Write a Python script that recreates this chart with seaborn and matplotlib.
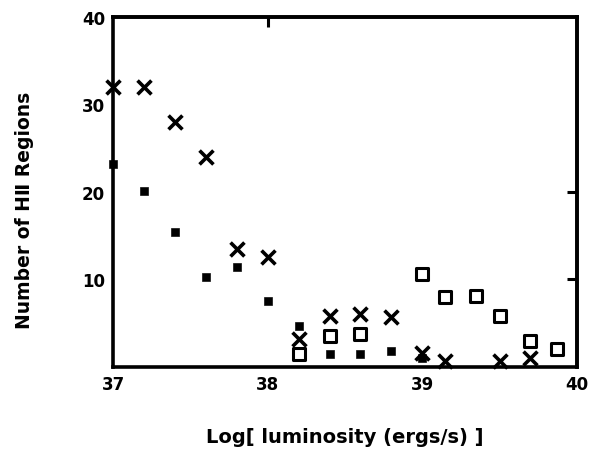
import pandas as pd
import matplotlib
matplotlib.use("Agg")
import matplotlib.pyplot as plt
import seaborn as sns

# crosses
cross_x = [37.0, 37.2, 37.4, 37.6, 37.8, 38.0, 38.2, 38.4, 38.6, 38.8, 39.0, 39.15, 39.5, 39.7]
cross_n = [32, 32, 28, 24, 13.5, 12.6, 3.2, 5.8, 6.0, 5.7, 1.6, 0.7, 0.7, 1.0]

# small filled squares
fill_x = [37.0, 37.2, 37.4, 37.6, 37.8, 38.0, 38.2, 38.4, 38.6, 38.8, 39.0, 39.87]
fill_n = [23.2, 20.1, 15.4, 10.3, 11.4, 7.5, 4.7, 1.5, 1.5, 1.8, 1.0, 2.0]

# open squares
open_x = [38.2, 38.4, 38.6, 39.0, 39.15, 39.35, 39.5, 39.7, 39.87]
open_n = [1.5, 3.5, 3.8, 10.6, 8.0, 8.1, 5.8, 3.0, 2.0]

xticks = [37, 38, 39, 40]
xtick_labels = ["37", "38", "39", "40"]
yticks = [10, 20, 30, 40]
ytick_labels = ["10", "20", "30", "40"]

sns.set_style("white")
plt.rcParams['font.family'] = ['DejaVu Sans']
plt.rcParams['text.color'] = 'black'
plt.rcParams['axes.labelcolor'] = 'black'
plt.rcParams['xtick.color'] = 'black'
plt.rcParams['ytick.color'] = 'black'

fig = plt.figure(figsize=(5.99, 4.56), dpi=100)
ax = fig.add_axes([0.189, 0.193, 0.774, 0.768])

sns.scatterplot(x=cross_x, y=cross_n, marker='x', s=100, color='black',
                linewidth=2.6, ax=ax, clip_on=False, zorder=3)
sns.scatterplot(x=fill_x, y=fill_n, marker='s', s=30, color='black',
                edgecolor='black', ax=ax, clip_on=False, zorder=3)
sns.scatterplot(x=open_x, y=open_n, marker='s', s=70, facecolor='white',
                edgecolor='black', linewidth=2.2, ax=ax, clip_on=False, zorder=3)

ax.set_xlim(37, 40)
ax.set_ylim(0, 40)
ax.set_xticks(xticks)
ax.set_xticklabels(xtick_labels, fontsize=12, fontweight='bold')
ax.set_yticks(yticks)
ax.set_yticklabels(ytick_labels, fontsize=12, fontweight='bold')
ax.tick_params(direction='in', length=7, width=2.2, color='black',
               labelcolor='black', pad=6)

# hand-drawn frame: only a few ticks on top and right
top = ax.secondary_xaxis('top')
top.set_xticks([38])
top.set_xticklabels([])
top.tick_params(direction='in', length=7, width=2.2, color='black')
right = ax.secondary_yaxis('right')
right.set_yticks([10, 20])
right.set_yticklabels([])
right.tick_params(direction='in', length=7, width=2.2, color='black')
for a in (top, right):
    for sp in a.spines.values():
        sp.set_linewidth(2.6)
        sp.set_color('black')

for sp in ax.spines.values():
    sp.set_color('black')
    sp.set_linewidth(2.6)

ax.set_xlabel("Log[ luminosity (ergs/s) ]", fontsize=14, fontweight='bold', labelpad=24)
ax.set_ylabel("Number of H\u2161 Regions", fontsize=13.5, fontweight='bold')
ax.yaxis.set_label_coords(-0.17, 0.45)

fig.savefig("out.png", dpi=100)
